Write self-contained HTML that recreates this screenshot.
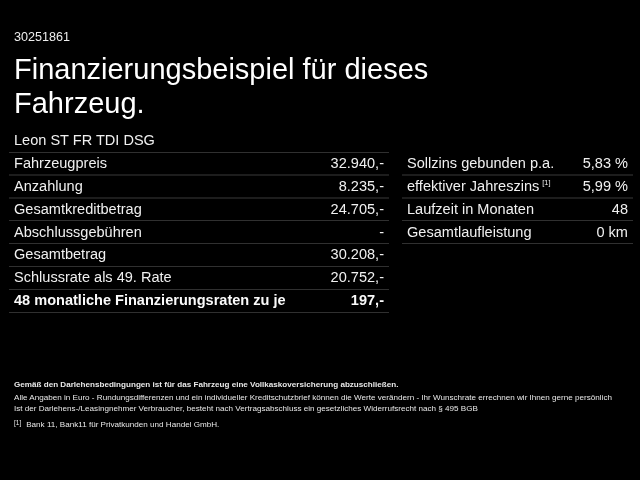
<!DOCTYPE html>
<html><head><meta charset="utf-8">
<style>
html,body{margin:0;padding:0;background:#000;width:640px;height:480px;overflow:hidden}
body{font-family:"Liberation Sans",sans-serif;color:#f0f0f0}
.wrap{position:absolute;left:0;top:0;width:640px;height:480px;will-change:transform}
.a,.t{position:absolute;white-space:nowrap}
.t{font-size:14.55px;line-height:20px}
.b{font-weight:bold;color:#fafafa}
.ln{position:absolute;height:1px}
#num{left:14px;top:30px;font-size:12.6px;line-height:15px;color:#eee}
#title{left:14px;top:51.9px;font-size:29px;line-height:34px;color:#fff}
#cap{left:14px;top:129.96px}
sup{font-size:7.4px;line-height:0;vertical-align:top;position:relative;top:7px;margin-left:2.9px}
.fn{font-size:8.1px;line-height:10px;left:14px;color:#e8e8e8}
.fs{font-size:6.6px;position:relative;top:-1.8px;margin-right:2.6px}
</style></head><body><div class="wrap">
<div class="a" id="num">30251861</div>
<div class="a" id="title">Finanzierungsbeispiel für dieses<br>Fahrzeug.</div>
<div class="t" id="cap">Leon ST FR TDI DSG</div>
<div class="ln" style="left:9px;top:152px;width:380px;background:#303030"></div>
<div class="ln" style="left:9px;top:174px;width:380px;height:2px;background:#1d1d1d"></div>
<div class="ln" style="left:9px;top:197px;width:380px;height:2px;background:#1d1d1d"></div>
<div class="ln" style="left:9px;top:220px;width:380px;background:#303030"></div>
<div class="ln" style="left:9px;top:243px;width:380px;background:#303030"></div>
<div class="ln" style="left:9px;top:266px;width:380px;background:#303030"></div>
<div class="ln" style="left:9px;top:289px;width:380px;background:#303030"></div>
<div class="ln" style="left:9px;top:312px;width:380px;background:#303030"></div>
<div class="ln" style="left:402px;top:174px;width:231px;height:2px;background:#1d1d1d"></div>
<div class="ln" style="left:402px;top:197px;width:231px;height:2px;background:#1d1d1d"></div>
<div class="ln" style="left:402px;top:220px;width:231px;background:#303030"></div>
<div class="ln" style="left:402px;top:243px;width:231px;background:#303030"></div>
<div class="t" style="left:14px;top:152.96px">Fahrzeugpreis</div>
<div class="t r" style="right:256px;top:152.96px">32.940,-</div>
<div class="t" style="left:14px;top:175.82px">Anzahlung</div>
<div class="t r" style="right:256px;top:175.82px">8.235,-</div>
<div class="t" style="left:14px;top:198.67px">Gesamtkreditbetrag</div>
<div class="t r" style="right:256px;top:198.67px">24.705,-</div>
<div class="t" style="left:14px;top:221.53px">Abschlussgebühren</div>
<div class="t r" style="right:256px;top:221.53px">-</div>
<div class="t" style="left:14px;top:244.39px">Gesamtbetrag</div>
<div class="t r" style="right:256px;top:244.39px">30.208,-</div>
<div class="t" style="left:14px;top:267.24px">Schlussrate als 49. Rate</div>
<div class="t r" style="right:256px;top:267.24px">20.752,-</div>
<div class="t b" style="left:14px;top:290.10px">48 monatliche Finanzierungsraten zu je</div>
<div class="t r b" style="right:256px;top:290.10px">197,-</div>
<div class="t" style="left:407px;top:152.96px">Sollzins gebunden p.a.</div>
<div class="t r" style="right:12px;top:152.96px">5,83 %</div>
<div class="t" style="left:407px;top:175.82px">effektiver Jahreszins<sup>[1]</sup></div>
<div class="t r" style="right:12px;top:175.82px">5,99 %</div>
<div class="t" style="left:407px;top:198.67px">Laufzeit in Monaten</div>
<div class="t r" style="right:12px;top:198.67px">48</div>
<div class="t" style="left:407px;top:221.53px">Gesamtlaufleistung</div>
<div class="t r" style="right:12px;top:221.53px">0 km</div>
<div class="a fn" style="top:379.5px;font-weight:bold">Gemäß den Darlehensbedingungen ist für das Fahrzeug eine Vollkaskoversicherung abzuschließen.</div>
<div class="a fn" style="top:393px">Alle Angaben in Euro - Rundungsdifferenzen und ein individueller Kreditschutzbrief können die Werte verändern - Ihr Wunschrate errechnen wir Ihnen gerne persönlich</div>
<div class="a fn" style="top:404px">Ist der Darlehens-/Leasingnehmer Verbraucher, besteht nach Vertragsabschluss ein gesetzliches Widerrufsrecht nach § 495 BGB</div>
<div class="a fn" style="top:420.2px"><span class="fs">[1]</span> Bank 11, Bank11 für Privatkunden und Handel GmbH.</div>
</div></body></html>
